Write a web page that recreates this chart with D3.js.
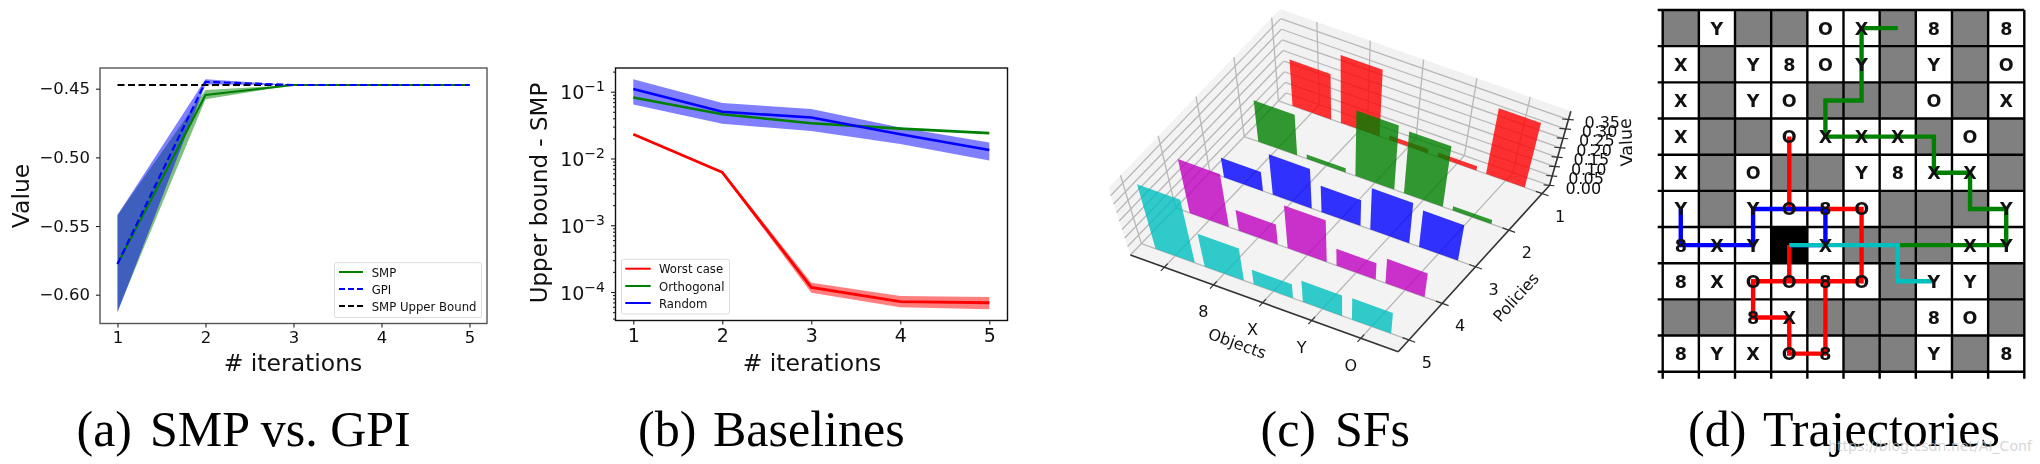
<!DOCTYPE html>
<html>
<head>
<meta charset="utf-8">
<script src="https://cdn.jsdelivr.net/npm/d3@7"></script>
<style>
  html, body { margin: 0; padding: 0; background: #fff; }
  svg { display: block; }
  text { font-family: "DejaVu Sans", sans-serif; fill: #111; }
  .caption { font-family: "Liberation Serif", serif; font-size: 50px; fill: #000; }
  .soft { filter: blur(0.7px); }
</style>
</head>
<body>
<div id="vis"></div>
<script>
// constants
const FRAME_WIDTH = 2040;
const FRAME_HEIGHT = 464;

// panel (a) data
const iterations = [1, 2, 3, 4, 5];
const smpMean = [-0.5776, -0.4546, -0.4473, -0.4473, -0.4473];
const smpLow = [-0.612, -0.4577, -0.4473, -0.4473, -0.4473];
const smpHigh = [-0.542, -0.451, -0.4473, -0.4473, -0.4473];
const gpiMean = [-0.5776, -0.445, -0.4473, -0.4473, -0.4473];
const gpiLow = [-0.613, -0.447, -0.4473, -0.4473, -0.4473];
const gpiHigh = [-0.542, -0.4432, -0.4473, -0.4473, -0.4473];
const upperBound = [-0.4473, -0.4473, -0.4473, -0.4473, -0.4473];
const valueTicks = [-0.45, -0.5, -0.55, -0.6];
const legendA = ["SMP", "GPI", "SMP Upper Bound"];

// panel (b) data
const worstMean = [0.023, 0.0062, 0.000117, 0.0000716, 0.000069];
const worstLow = [0.0225, 0.0059, 0.0000977, 0.0000589, 0.000055];
const worstHigh = [0.0235, 0.0065, 0.000138, 0.0000871, 0.0000841];
const orthogonalMean = [0.082, 0.046, 0.0336, 0.028, 0.024];
const randomMean = [0.11, 0.05, 0.041, 0.023, 0.0134];
const randomLow = [0.0645, 0.033, 0.0258, 0.0164, 0.0093];
const randomHigh = [0.153, 0.068, 0.055, 0.029, 0.0174];
const logTicks = [0.1, 0.01, 0.001, 0.0001];
const logTickExp = ["\u22121", "\u22122", "\u22123", "\u22124"];
const legendB = ["Worst case", "Orthogonal", "Random"];

// panel (c) data
const policies = [1, 2, 3, 4, 5];
const objectIdx = [0, 1, 2, 3, 4];
const objectLabels = ["", "8", "X", "Y", "O"];
const sfPolicy1 = [0.221, 0.331, 0.022, 0.022, 0.343];
const sfPolicy2 = [0.206, 0.022, 0.343, 0.331, 0.022];
const sfPolicy3 = [0.102, 0.217, 0.144, 0.232, 0.21];
const sfPolicy4 = [0.298, 0.116, 0.248, 0.1, 0.149];
const sfPolicy5 = [0.376, 0.196, 0.088, 0.133, 0.138];
const sfColors = ["#ff0000", "#008000", "#0000ff", "#bf00bf", "#00bfbf"];
const zTicks = [0, 0.05, 0.1, 0.15, 0.2, 0.25, 0.3, 0.35];

// panel (d) data, . gray, # agent start
const boardRows = [
  ". Y . . O X . 8 . 8",
  "X . Y 8 O Y . Y . O",
  "X . Y O . . . O . X",
  "X . . O X X X . O .",
  "X . O . . Y 8 X X .",
  "Y . Y O 8 O . . . Y",
  "8 X Y # X . . . X Y",
  "8 X O O 8 O . Y Y .",
  ". . 8 X . . . 8 O .",
  "8 Y X O 8 . . Y . 8"
];
const redPath = [[3,6],[3,7],[4,7],[4,9],[3,9],[3,8],[2,8],[2,7],[5,7],[5,5],[3,5],[3,3]];
const bluePath = [[3,6],[4,6],[4,5],[2,5],[2,6],[0,6],[0,5]];
const greenPath = [[6,6],[9,6],[9,5],[8,5],[8,4],[7,4],[7,3],[4,3],[4,2],[5,2],[5,0],[6,0]];
const cyanPath = [[3,6],[6,6],[6,7],[7,7]];

const SVG = d3.select("#vis").append("svg")
  .attr("width", FRAME_WIDTH)
  .attr("height", FRAME_HEIGHT);

function frameBox(g, x0, x1, y0, y1, color) {
  g.append("rect").attr("x", x0).attr("y", y0)
    .attr("width", x1 - x0).attr("height", y1 - y0)
    .attr("fill", "none").attr("stroke", color).attr("stroke-width", 1.4);
}

function legend(g, x0, x1, y0, y1, lineX0, lineX1, textX, rowY, labels, colors, dashes) {
  g.append("rect").attr("x", x0).attr("y", y0).attr("rx", 2)
    .attr("width", x1 - x0).attr("height", y1 - y0)
    .attr("fill", "#fff").attr("stroke", "#dcdcdc").attr("stroke-width", 1);
  labels.forEach((d, i) => {
    g.append("line").attr("x1", lineX0).attr("x2", lineX1)
      .attr("y1", rowY[i]).attr("y2", rowY[i])
      .attr("stroke", colors[i]).attr("stroke-width", 2)
      .attr("stroke-dasharray", dashes[i]);
    g.append("text").attr("x", textX).attr("y", rowY[i] + 4.5)
      .attr("font-size", 11.7).text(d);
  });
}

function styleAxis(sel, size) {
  sel.select(".domain").remove();
  sel.selectAll("line").attr("stroke", "#222").attr("stroke-width", 1.1);
  sel.selectAll("text").attr("font-size", size).attr("fill", "#111")
    .style("font-family", '"DejaVu Sans", sans-serif');
}

// panel (a)
const PA = { left: 100, right: 487, top: 68, bottom: 323.5 };
const gA = SVG.append("g").attr("class", "soft");
const xA = d3.scaleLinear().domain([1, 5]).range([117.5, 469.5]);
const yA = d3.scaleLinear().domain([-0.45, -0.6]).range([88.7, 294.7]);

const areaA = (lo, hi) => d3.area()
  .x((d, i) => xA(iterations[i]))
  .y0((d, i) => yA(lo[i]))
  .y1((d, i) => yA(hi[i]))(iterations);
const lineA = (vals) => d3.line()
  .x((d, i) => xA(iterations[i]))
  .y((d, i) => yA(vals[i]))(iterations);

gA.append("path").attr("d", areaA(smpLow, smpHigh)).attr("fill", "#008000").attr("fill-opacity", 0.5);
gA.append("path").attr("d", areaA(gpiLow, gpiHigh)).attr("fill", "#0000ff").attr("fill-opacity", 0.5);
gA.append("path").attr("d", lineA(upperBound)).attr("fill", "none").attr("stroke", "#000")
  .attr("stroke-width", 2).attr("stroke-dasharray", "7 3.5");
gA.append("path").attr("d", lineA(smpMean)).attr("fill", "none").attr("stroke", "#008000").attr("stroke-width", 2.2);
gA.append("path").attr("d", lineA(gpiMean)).attr("fill", "none").attr("stroke", "#0000ff")
  .attr("stroke-width", 2.2).attr("stroke-dasharray", "7 3.5");
frameBox(gA, PA.left, PA.right, PA.top, PA.bottom, "#555");

gA.append("g").attr("transform", `translate(0,${PA.bottom})`)
  .call(d3.axisBottom(xA).tickValues(iterations).tickFormat(d3.format("d")).tickSize(4).tickPadding(4))
  .call(styleAxis, 16.5);
gA.append("g").attr("transform", `translate(${PA.left},0)`)
  .call(d3.axisLeft(yA).tickValues(valueTicks).tickFormat((d) => "\u2212" + Math.abs(d).toFixed(2)).tickSize(4).tickPadding(6))
  .call(styleAxis, 16.5);
gA.append("text").attr("x", 293).attr("y", 371).attr("text-anchor", "middle")
  .attr("font-size", 23.5).text("# iterations");
gA.append("text").attr("transform", "translate(28.5,196) rotate(-90)").attr("text-anchor", "middle")
  .attr("font-size", 23.5).text("Value");
legend(gA, 334.5, 481.5, 262.7, 317.5, 339, 363, 371.7, [272, 289, 306], legendA,
  ["#008000", "#0000ff", "#000"], ["none", "6 3", "6 3"]);

// panel (b)
const PB = { left: 615.5, right: 1007.5, top: 68, bottom: 320.5 };
const gB = SVG.append("g").attr("class", "soft");
const xB = d3.scaleLinear().domain([1, 5]).range([633.3, 989.3]);
const yB = d3.scaleLog().domain([0.1, 0.0001]).range([91.7, 292]);

const areaB = (lo, hi) => d3.area()
  .x((d, i) => xB(iterations[i]))
  .y0((d, i) => yB(lo[i]))
  .y1((d, i) => yB(hi[i]))(iterations);
const lineB = (vals) => d3.line()
  .x((d, i) => xB(iterations[i]))
  .y((d, i) => yB(vals[i]))(iterations);

gB.append("path").attr("d", areaB(worstLow, worstHigh)).attr("fill", "#ff0000").attr("fill-opacity", 0.5);
gB.append("path").attr("d", areaB(randomLow, randomHigh)).attr("fill", "#0000ff").attr("fill-opacity", 0.5);
gB.append("path").attr("d", lineB(worstMean)).attr("fill", "none").attr("stroke", "#ff0000").attr("stroke-width", 2.8);
gB.append("path").attr("d", lineB(orthogonalMean)).attr("fill", "none").attr("stroke", "#008000").attr("stroke-width", 2.6);
gB.append("path").attr("d", lineB(randomMean)).attr("fill", "none").attr("stroke", "#0000ff").attr("stroke-width", 2.6);
frameBox(gB, PB.left, PB.right, PB.top, PB.bottom, "#111");

gB.append("g").attr("transform", `translate(0,${PB.bottom})`)
  .call(d3.axisBottom(xB).tickValues(iterations).tickFormat(d3.format("d")).tickSize(4).tickPadding(4))
  .call(styleAxis, 19);

const minorTicks = [];
[0.1, 0.01, 0.001, 0.0001, 0.00001].forEach((dec) => {
  d3.range(2, 10).forEach((m) => {
    const v = dec * m;
    if (yB(v) > PB.top && yB(v) < PB.bottom) minorTicks.push(v);
  });
});
gB.append("g").attr("transform", `translate(${PB.left},0)`)
  .call(d3.axisLeft(yB).tickValues(minorTicks).tickFormat("").tickSize(2.5))
  .call(styleAxis, 10);
gB.append("g").attr("transform", `translate(${PB.left},0)`)
  .call(d3.axisLeft(yB).tickValues(logTicks).tickFormat("").tickSize(4.5))
  .call(styleAxis, 10);
logTicks.forEach((d, i) => {
  const t = gB.append("text").attr("x", 605).attr("y", yB(d) + 7.5).attr("text-anchor", "end").attr("font-size", 19);
  t.append("tspan").text("10");
  t.append("tspan").attr("dy", -8).attr("font-size", 14).text(logTickExp[i]);
});
gB.append("text").attr("x", 812).attr("y", 371).attr("text-anchor", "middle")
  .attr("font-size", 23.5).text("# iterations");
gB.append("text").attr("transform", "translate(547,193) rotate(-90)").attr("text-anchor", "middle")
  .attr("font-size", 23).text("Upper bound - SMP");
legend(gB, 621.5, 729.5, 259.3, 314, 625.3, 650.7, 659, [268.7, 286, 303], legendB,
  ["#ff0000", "#008000", "#0000ff"], ["none", "none", "none"]);

// panel (c), floor corners and nadir of the 3d view
const FL = [1130.4, 255], FR = [1398.2, 351.7], BR = [1549.5, 185.5], BL = [1286, 93];
const NADIR = [1343.6, 902.3];
const uScale = d3.scaleLinear().domain([-0.69, 4.76]).range([0, 1]);
const vScale = d3.scaleLinear().domain([5.32, 0.78]).range([0, 1]);
const zScale = d3.scaleLinear().domain([0, 0.395]).range([0, 0.1037]);
const OBJ_MIN = -0.69, OBJ_MAX = 4.76, POL_FRONT = 5.32, POL_BACK = 0.78, Z_TOP = 0.395;

function project(obj, pol, val) {
  const u = uScale(obj), v = vScale(pol), k = zScale(val);
  const fx = (1 - u) * (1 - v) * FL[0] + u * (1 - v) * FR[0] + u * v * BR[0] + (1 - u) * v * BL[0];
  const fy = (1 - u) * (1 - v) * FL[1] + u * (1 - v) * FR[1] + u * v * BR[1] + (1 - u) * v * BL[1];
  return [fx + (fx - NADIR[0]) * k, fy + (fy - NADIR[1]) * k];
}
const polyLine = d3.line();
const gC = SVG.append("g").attr("class", "soft");

// panes
gC.append("path").attr("fill", "#f3f3f3").attr("d", polyLine([
  project(OBJ_MIN, POL_FRONT, 0), project(OBJ_MIN, POL_BACK, 0), project(OBJ_MIN, POL_BACK, Z_TOP), project(OBJ_MIN, POL_FRONT, Z_TOP)]));
gC.append("path").attr("fill", "#f1f1f1").attr("d", polyLine([
  project(OBJ_MIN, POL_BACK, 0), project(OBJ_MAX, POL_BACK, 0), project(OBJ_MAX, POL_BACK, Z_TOP), project(OBJ_MIN, POL_BACK, Z_TOP)]));
gC.append("path").attr("fill", "#f3f3f3").attr("d", polyLine([
  project(OBJ_MIN, POL_FRONT, 0), project(OBJ_MAX, POL_FRONT, 0), project(OBJ_MAX, POL_BACK, 0), project(OBJ_MIN, POL_BACK, 0)]));

// grid
function gridLine(a, b) {
  gC.append("path").attr("d", polyLine([a, b])).attr("fill", "none")
    .attr("stroke", "#b8b8b8").attr("stroke-width", 1.3);
}
objectIdx.forEach((i) => {
  gridLine(project(i, POL_FRONT, 0), project(i, POL_BACK, 0));
  gridLine(project(i, POL_BACK, 0), project(i, POL_BACK, Z_TOP));
});
policies.forEach((p) => {
  gridLine(project(OBJ_MIN, p, 0), project(OBJ_MAX, p, 0));
  gridLine(project(OBJ_MIN, p, 0), project(OBJ_MIN, p, Z_TOP));
});
zTicks.forEach((z) => {
  gridLine(project(OBJ_MIN, POL_FRONT, z), project(OBJ_MIN, POL_BACK, z));
  gridLine(project(OBJ_MIN, POL_BACK, z), project(OBJ_MAX, POL_BACK, z));
});

// bars, back row first
[sfPolicy1, sfPolicy2, sfPolicy3, sfPolicy4, sfPolicy5].forEach((row, r) => {
  gC.selectAll(null).data(row).enter().append("path")
    .attr("d", (d, i) => polyLine([
      project(objectIdx[i] - 0.4, policies[r], 0),
      project(objectIdx[i] + 0.4, policies[r], 0),
      project(objectIdx[i] + 0.4, policies[r], d),
      project(objectIdx[i] - 0.4, policies[r], d)]))
    .attr("fill", sfColors[r]).attr("fill-opacity", 0.8);
});

// axes lines and ticks
function axisLine(a, b, w) {
  gC.append("path").attr("d", polyLine([a, b])).attr("fill", "none")
    .attr("stroke", "#333").attr("stroke-width", w);
}
axisLine(project(OBJ_MIN, POL_FRONT, 0), project(OBJ_MAX, POL_FRONT, 0), 1.6);
axisLine(project(OBJ_MAX, POL_FRONT, 0), project(OBJ_MAX, POL_BACK, 0), 1.6);
axisLine(project(OBJ_MAX, POL_BACK, 0), project(OBJ_MAX, POL_BACK, Z_TOP), 1.6);
objectIdx.forEach((i) => {
  axisLine(project(i, POL_FRONT + 0.1, 0), project(i, POL_FRONT - 0.1, 0), 1.2);
});
policies.forEach((p) => {
  axisLine(project(OBJ_MAX + 0.13, p, 0), project(OBJ_MAX - 0.13, p, 0), 1.2);
});
zTicks.forEach((z) => {
  axisLine(project(OBJ_MAX + 0.08, POL_BACK - 0.03, z), project(OBJ_MAX - 0.1, POL_BACK + 0.03, z), 1.2);
  const p = project(OBJ_MAX, POL_BACK, z);
  gC.append("text").attr("x", p[0] + 16).attr("y", p[1] + 8).attr("font-size", 16)
    .attr("fill", "#333").text(z.toFixed(2));
});
objectLabels.forEach((d, i) => {
  if (!d) return;
  const p = project(objectIdx[i], POL_FRONT, 0);
  gC.append("text").attr("x", p[0] - 10).attr("y", p[1] + 32.5).attr("text-anchor", "middle")
    .attr("font-size", 16).attr("fill", "#333").text(d);
});
policies.forEach((d) => {
  const p = project(OBJ_MAX, d, 0);
  gC.append("text").attr("x", p[0] + 18).attr("y", p[1] + 28).attr("text-anchor", "middle")
    .attr("font-size", 16).attr("fill", "#333").text(d);
});
gC.append("text").attr("transform", "translate(1235.4,348.6) rotate(20)").attr("text-anchor", "middle")
  .attr("font-size", 16).attr("fill", "#333").text("Objects");
gC.append("text").attr("transform", "translate(1520,301) rotate(-48)").attr("text-anchor", "middle")
  .attr("font-size", 16).attr("fill", "#333").text("Policies");
SVG.append("clipPath").attr("id", "valueClip").append("rect")
  .attr("x", 1600).attr("y", 90).attr("width", 32).attr("height", 100);
gC.append("g").attr("clip-path", "url(#valueClip)")
  .append("text").attr("transform", "translate(1632,142) rotate(-93)").attr("text-anchor", "middle")
  .attr("font-size", 17.5).attr("fill", "#333").text("Value");

// panel (d)
const gD = SVG.append("g").attr("class", "soft");
const colScale = d3.scaleLinear().domain([0, 10]).range([1662.7, 2024.3]);
const rowScale = d3.scaleLinear().domain([0, 10]).range([10, 371.7]);
const board = boardRows.map((r) => r.split(" "));
const cellColor = { ".": "#808080", "#": "#000000" };

gD.selectAll("g.row").data(board).enter().append("g").attr("class", "row")
  .each(function (row, r) {
    d3.select(this).selectAll("rect").data(row).enter().append("rect")
      .attr("x", (d, c) => colScale(c))
      .attr("y", rowScale(r))
      .attr("width", colScale(1) - colScale(0))
      .attr("height", rowScale(1) - rowScale(0))
      .attr("fill", (d) => cellColor[d] || "#ffffff");
  });
d3.range(11).forEach((i) => {
  gD.append("line").attr("x1", colScale(i)).attr("x2", colScale(i))
    .attr("y1", rowScale(0)).attr("y2", rowScale(10) + 7)
    .attr("stroke", "#000").attr("stroke-width", 2.4);
  gD.append("line").attr("y1", rowScale(i)).attr("y2", rowScale(i))
    .attr("x1", colScale(0) - 5).attr("x2", colScale(10))
    .attr("stroke", "#000").attr("stroke-width", 2.4);
});

const trajLine = d3.line().x((d) => colScale(d[0] + 0.5)).y((d) => rowScale(d[1] + 0.5));
[[redPath, "#ff0000"], [bluePath, "#0000ff"], [greenPath, "#008000"], [cyanPath, "#00bfbf"]].forEach((t) => {
  gD.append("path").attr("d", trajLine(t[0])).attr("fill", "none")
    .attr("stroke", t[1]).attr("stroke-width", 4.4).attr("stroke-linejoin", "miter");
});

board.forEach((row, r) => {
  row.forEach((d, c) => {
    if (d === "." || d === "#") return;
    gD.append("text").attr("x", colScale(c + 0.5)).attr("y", rowScale(r + 0.5) + 6.5)
      .attr("text-anchor", "middle").attr("font-size", 17.5).attr("font-weight", 700)
      .attr("fill", "#111").text(d);
  });
});

// captions
const captionParts = [
  ["(a)", 76.5], ["SMP vs. GPI", 150],
  ["(b)", 638], ["Baselines", 713],
  ["(c)", 1260.5], ["SFs", 1335],
  ["(d)", 1688], ["Trajectories", 1763]
];
captionParts.forEach((d) => {
  SVG.append("text").attr("class", "caption").attr("x", d[1]).attr("y", 446).text(d[0]);
});
SVG.append("text").attr("x", 1828).attr("y", 451).attr("font-size", 14.1)
  .style("fill", "#c8c8c8").style("fill-opacity", 0.75).text("https://blog.csdn.net/AI_Conf");
</script>
</body>
</html>
